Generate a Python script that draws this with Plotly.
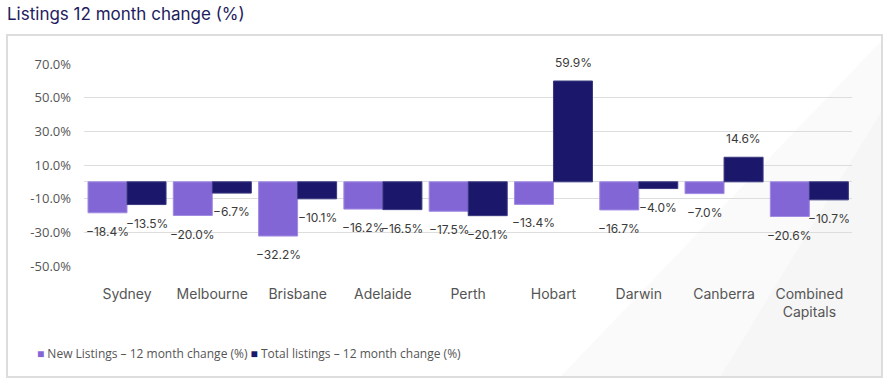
import plotly.graph_objects as go

cities = ["Sydney", "Melbourne", "Brisbane", "Adelaide", "Perth", "Hobart",
          "Darwin", "Canberra", "Combined<br>Capitals"]
new_listings = [-18.4, -20.0, -32.2, -16.2, -17.5, -13.4, -16.7, -7.0, -20.6]
total_listings = [-13.5, -6.7, -10.1, -16.5, -20.1, 59.9, -4.0, 14.6, -10.7]
y_ticks = [-50, -30, -10, 10, 30, 50, 70]
y_tick_labels = ["-50.0%", "-30.0%", "-10.0%", "10.0%", "30.0%", "50.0%", "70.0%"]
series_names = ["New Listings – 12 month change (%)", "Total listings – 12 month change (%)"]

PURPLE = "#8366d6"
NAVY = "#1b186b"
W, H = 888, 382
L, R, T, B = 84, 36, 64, 116
pw, ph = W - L - R, H - T - B

fig = go.Figure()
fig.add_bar(x=cities, y=new_listings, name=series_names[0], marker_color=PURPLE,
            marker_line=dict(color="#a08be3", width=1))
fig.add_bar(x=cities, y=total_listings, name=series_names[1], marker_color=NAVY,
            marker_line=dict(color="#3b3a80", width=1))

bargap = 0.085
half = pw / len(cities) * (1 - bargap) / 4
annotations = []
for series, sign in ((new_listings, -1), (total_listings, 1)):
    for c, v in zip(cities, series):
        txt = ("−" if v < 0 else "") + f"{abs(v):.1f}%"
        annotations.append(dict(
            x=c, y=v, xref="x", yref="y", text=txt, showarrow=False,
            xshift=sign * half, yanchor="top" if v < 0 else "bottom",
            yshift=-9 if v < 0 else 9,
            font=dict(family="Inter, Noto Sans", size=12, color="#3a3a3a")))


def px_x(p):
    return (p - L) / pw


def px_y(p):
    return (H - B - p) / ph


# custom legend as text
annotations.append(dict(
    xref="paper", yref="paper", x=px_x(35), y=px_y(353), xanchor="left", yanchor="middle",
    showarrow=False,
    text=(f"<span style='color:{PURPLE}'>■</span> {series_names[0]} "
          f"<span style='color:{NAVY}'>■</span> {series_names[1]}"),
    font=dict(family="Open Sans, Noto Sans", size=12, color="#555555")))

shapes = [
    # faint diagonal background panels
    dict(type="path", xref="paper", yref="paper", layer="below",
         path=f"M {px_x(560)} {px_y(377)} L {px_x(882)} {px_y(40)} L {px_x(882)} {px_y(377)} Z",
         fillcolor="rgba(0,0,0,0.02)", line=dict(width=0)),
    dict(type="path", xref="paper", yref="paper", layer="below",
         path=f"M {px_x(720)} {px_y(377)} L {px_x(882)} {px_y(110)} L {px_x(882)} {px_y(377)} Z",
         fillcolor="rgba(0,0,0,0.015)", line=dict(width=0)),
    # border box
    dict(type="rect", xref="paper", yref="paper", layer="below",
         x0=px_x(7), x1=px_x(882), y0=px_y(377), y1=px_y(35),
         line=dict(color="#dddddd", width=2), fillcolor="rgba(0,0,0,0)"),
]

fig.update_layout(
    width=W, height=H,
    margin=dict(l=L, r=R, t=T, b=B),
    paper_bgcolor="white", plot_bgcolor="rgba(0,0,0,0)",
    barmode="group", bargap=bargap, bargroupgap=0,
    showlegend=False,
    title=dict(text="Listings 12 month change (%)", x=7 / W, xref="container", xanchor="left",
               y=1 - 14 / H, yref="container", yanchor="middle",
               font=dict(family="Inter, Noto Sans", size=17, color="#1e1b5e")),
    annotations=annotations, shapes=shapes,
    xaxis=dict(showgrid=False, showline=False, ticks="", ticklabelstandoff=18,
               tickfont=dict(family="Inter, Noto Sans", size=14, color="#555555")),
    yaxis=dict(range=[-50, 70], tickvals=y_ticks, ticktext=y_tick_labels,
               showgrid=True, gridcolor="#dddddd", gridwidth=1,
               zeroline=True, zerolinecolor="#dddddd", zerolinewidth=1,
               showline=False, ticks="", ticklabelstandoff=12,
               tickfont=dict(family="Open Sans, Noto Sans", size=13, color="#555555")),
)

fig.write_html("out.html", config={"displayModeBar": False},
               post_script="document.body.style.margin='0';")
